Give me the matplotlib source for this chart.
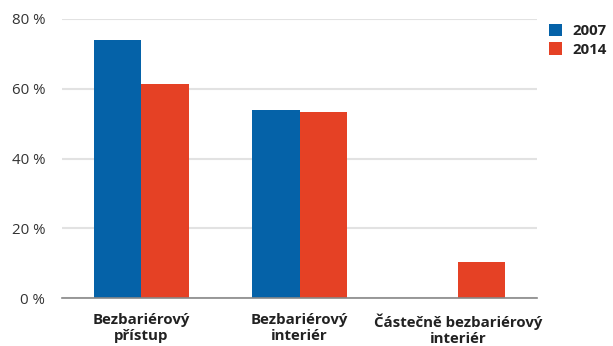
import numpy as np
import matplotlib
matplotlib.use("Agg")
import matplotlib.pyplot as plt

plt.rcParams['font.family'] = ['Open Sans', 'DejaVu Sans']

# share of buildings by accessibility category
categories = ["Bezbariérový\npřístup", "Bezbariérový\ninteriér", "Částečně bezbariérový\ninteriér"]
years = ["2007", "2014"]
values_2007 = [74.0, 53.9, np.nan]
values_2014 = [61.4, 53.3, 10.3]
yticks = [0, 20, 40, 60, 80]

blue = "#0562a8"
red = "#e54125"

fig = plt.figure(figsize=(6.13, 3.46), dpi=100)
ax = fig.add_axes([62 / 613, 1 - 298 / 346, 475 / 613, 279 / 346])

x = np.arange(len(categories))
width = 0.30
ax.bar(x - width / 2, values_2007, width, color=blue, label=years[0], zorder=3)
ax.bar(x + width / 2, values_2014, width, color=red, label=years[1], zorder=3)

ax.set_xlim(-0.5, 2.5)
ax.set_ylim(0, 80)
ax.set_yticks(yticks)
ax.set_yticklabels([f"{t} %" for t in yticks])
ax.set_xticks(x)
ax.set_xticklabels(categories, fontweight="bold", fontsize=10.8, color="#222222",
                   linespacing=1.2, multialignment="center")

ax.grid(axis="y", color="#e2e2e2", linewidth=1.5, zorder=0)
ax.tick_params(axis="y", length=0, pad=12, labelsize=10.8, labelcolor="#333333")
ax.tick_params(axis="x", length=0, pad=11)
for side in ["top", "right", "left"]:
    ax.spines[side].set_visible(False)
ax.spines["bottom"].set_color("#888888")
ax.spines["bottom"].set_linewidth(1.2)
ax.spines["bottom"].set_zorder(4)

leg = fig.legend(loc="upper left", bbox_to_anchor=(535 / 613, 1 - 10 / 346), frameon=False,
                 handlelength=0.9, handleheight=0.9, handletextpad=0.7, labelspacing=0.3,
                 prop={"weight": "bold", "size": 10.8})
for t in leg.get_texts():
    t.set_color("#222222")

fig.savefig("out.png", dpi=100)
